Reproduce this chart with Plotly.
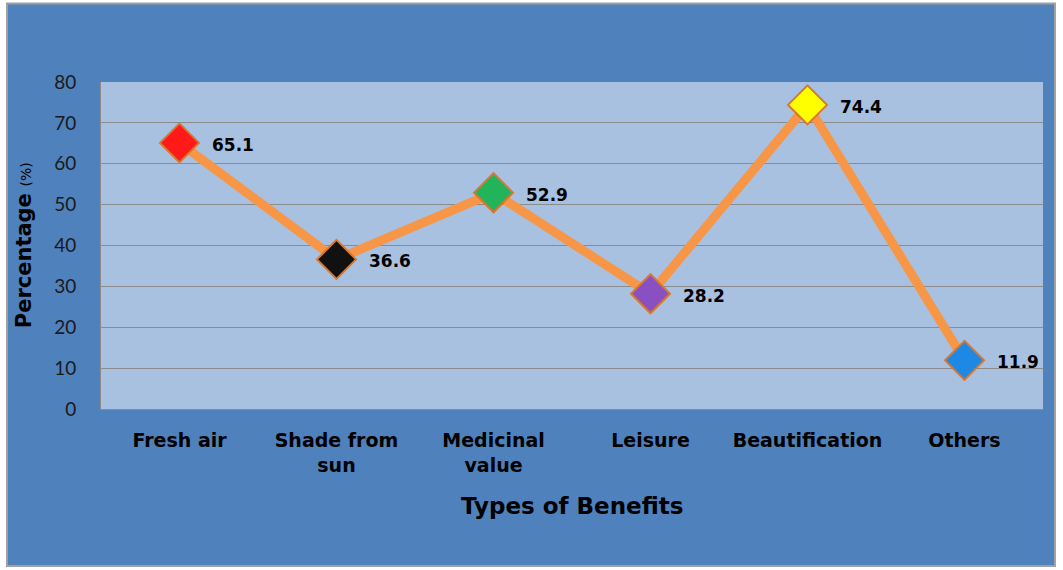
import plotly.graph_objects as go

categories = ["Fresh air", "Shade from<br>sun", "Medicinal<br>value", "Leisure", "Beautification", "Others"]
values = [65.1, 36.6, 52.9, 28.2, 74.4, 11.9]
marker_colors = ["#FF1A1A", "#111111", "#22B45A", "#8A4FC0", "#FFFF00", "#1E88E5"]
y_ticks = [0, 10, 20, 30, 40, 50, 60, 70, 80]

BOLD = "DejaVu Sans"

fig = go.Figure()
fig.add_trace(go.Scatter(
    x=categories, y=values, mode="lines+markers",
    line=dict(color="#F79646", width=9),
    marker=dict(symbol="diamond", size=30, color=marker_colors,
                line=dict(color="#D9772E", width=2)),
    showlegend=False, hoverinfo="skip",
))

for c, v in zip(categories, values):
    fig.add_annotation(x=c, y=v, text=f"{v}", showarrow=False, xanchor="left",
                       yanchor="middle", xshift=30, yshift=-2,
                       font=dict(family=BOLD, size=17, color="black", weight="bold"))

fig.add_annotation(xref="paper", yref="paper", x=0.5, y=-0.296, text="<b>Types of Benefits</b>",
                   showarrow=False, xanchor="center", yanchor="middle",
                   font=dict(family=BOLD, size=23, color="black"))
fig.add_annotation(xref="paper", yref="paper", x=-0.082, y=0.50,
                   text="<b>Percentage</b> <span style='font-size:14px'>(%)</span>",
                   showarrow=False, textangle=-90, xanchor="center", yanchor="middle",
                   font=dict(family=BOLD, size=21, color="black"))

# outer blue chart panel
fig.add_shape(type="rect", xref="paper", yref="paper", x0=-0.0998, x1=1.0127, y0=-0.48, y1=1.24,
              fillcolor="#4F81BD", line=dict(color="#A0A0A0", width=2), layer="below")
# light plot area
fig.add_shape(type="rect", xref="paper", yref="paper", x0=0, x1=1, y0=0, y1=1,
              fillcolor="#A9C1E0", line=dict(width=0), layer="below")

fig.update_layout(
    width=1063, height=570,
    margin=dict(l=101, r=20, t=82, b=161),
    paper_bgcolor="white",
    plot_bgcolor="#A9C1E0",
    xaxis=dict(range=[-0.5, 5.5], showgrid=False, showline=True, linecolor="#8C8C8C", linewidth=1,
               ticks="", tickfont=dict(family=BOLD, size=19, color="black", weight="bold"),
               ticklabelstandoff=14),
    yaxis=dict(range=[0, 80], tickvals=y_ticks, showgrid=True, gridcolor="#8C8C8C", gridwidth=1,
               showline=True, linecolor="#8C8C8C", linewidth=1, ticks="", zeroline=False,
               tickfont=dict(family="Lato", size=19, color="#1a1a1a"), ticklabelstandoff=20),
)

fig.write_html("out.html")
